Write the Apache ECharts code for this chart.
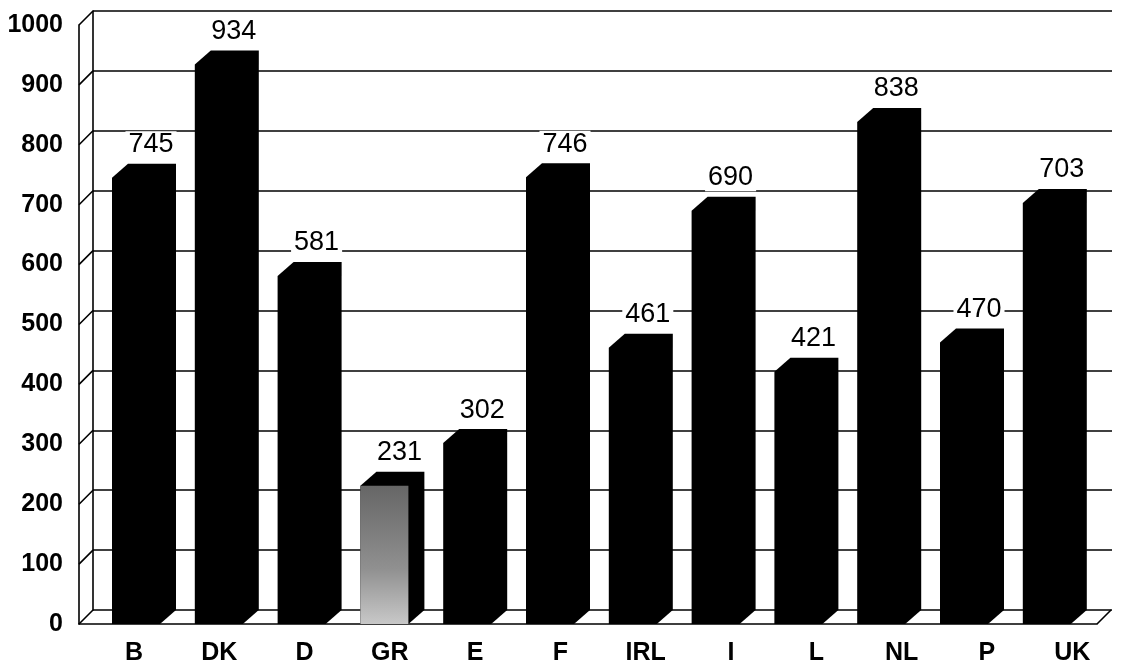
<!DOCTYPE html>
<html>
<head>
<meta charset="utf-8">
<script src="https://cdn.jsdelivr.net/npm/echarts@6/dist/echarts.min.js"></script>
<style>
  html, body { margin: 0; padding: 0; background: #fff; }
  #chart { width: 1126px; height: 669px; }
</style>
</head>
<body>
<div id="chart"></div>
<script>
// data
const categories = ['B', 'DK', 'D', 'GR', 'E', 'F', 'IRL', 'I', 'L', 'NL', 'P', 'UK'];
const values = [745, 934, 581, 231, 302, 746, 461, 690, 421, 838, 470, 703];
const yTicks = [0, 100, 200, 300, 400, 500, 600, 700, 800, 900, 1000];

// pseudo 3d depth
const DX = 16, DY = 14;   // bar depth
const WX = 14, WY = 14;   // wall depth
const HW = 24;            // half width of bar front face
const FONT = '"Liberation Sans", Arial, Helvetica, sans-serif';

const chart = echarts.init(document.getElementById('chart'), null, { renderer: 'canvas' });

function renderBar(params, api) {
    const i = api.value(0);
    const v = api.value(1);
    const base = api.coord([i, 0]);
    const top = api.coord([i, v]);
    const x0 = base[0] - HW, x1 = base[0] + HW;
    const yb = base[1], yt = top[1];
    const children = [{
        type: 'polygon',
        shape: { points: [[x0, yb], [x0, yt], [x0 + DX, yt - DY], [x1 + DX, yt - DY], [x1 + DX, yb - DY], [x1, yb]] },
        style: { fill: '#000' }
    }];
    if (categories[i] === 'GR') {
        // speckled grey front face in the original
        children.push({
            type: 'rect',
            shape: { x: x0, y: yt, width: 2 * HW, height: yb - yt },
            style: {
                fill: new echarts.graphic.LinearGradient(0, 0, 0, 1, [
                    { offset: 0, color: '#666' },
                    { offset: 0.6, color: '#909090' },
                    { offset: 1, color: '#c8c8c8' }
                ])
            }
        });
    }
    children.push({
        type: 'text',
        style: {
            text: String(v),
            x: base[0] + DX - 1,
            y: yt - DY - 19,
            align: 'center',
            verticalAlign: 'middle',
            font: '27px ' + FONT,
            fill: '#000',
            backgroundColor: '#fff',
            padding: [0, 3]
        }
    });
    return { type: 'group', children: children };
}

function renderWall(params, api) {
    const p = api.coord([api.value(0), api.value(1)]);
    return {
        type: 'line',
        shape: { x1: p[0], y1: p[1], x2: p[0] + WX, y2: p[1] - WY },
        style: { stroke: '#000', lineWidth: 1.6 }
    };
}

const wallData = yTicks.map(t => [0, t]).concat([[1, 0]]);

const option = {
    animation: false,
    backgroundColor: '#fff',
    grid: [
        // back wall
        { left: 93, right: 14, top: 11, bottom: 59 },
        // front plane
        { left: 79, right: 29, top: 25, bottom: 45 },
        // bars
        { left: 94.6, right: 37.8, top: 25, bottom: 45 },
        // category labels
        { left: 91.3, right: 11.1, top: 25, bottom: 45 }
    ],
    xAxis: [
        { gridIndex: 0, type: 'value', min: 0, max: 1, show: false },
        {
            gridIndex: 1, type: 'value', min: 0, max: 1,
            axisLine: { show: true, lineStyle: { color: '#000', width: 1.6 } },
            axisTick: { show: false }, axisLabel: { show: false }, splitLine: { show: false }
        },
        { gridIndex: 2, type: 'category', data: categories, show: false },
        {
            gridIndex: 3, type: 'category', data: categories,
            axisLine: { show: false }, axisTick: { show: false },
            axisLabel: { color: '#000', fontSize: 25, fontWeight: 'bold', fontFamily: FONT, margin: 17 }
        }
    ],
    yAxis: [
        {
            gridIndex: 0, type: 'value', min: 0, max: 1000, interval: 100,
            axisLine: { show: true, lineStyle: { color: '#000', width: 1.6 } },
            axisTick: { show: false }, axisLabel: { show: false },
            splitLine: { show: true, lineStyle: { color: '#000', width: 1.6 } }
        },
        {
            gridIndex: 1, type: 'value', min: 0, max: 1000, interval: 100,
            axisLine: { show: true, lineStyle: { color: '#000', width: 1.6 } },
            axisTick: { show: false }, splitLine: { show: false },
            axisLabel: {
                color: '#000', fontSize: 25, fontWeight: 'bold', fontFamily: FONT,
                margin: 16, padding: [0, 0, 8, 0],
                formatter: v => String(v)
            }
        },
        { gridIndex: 2, type: 'value', min: 0, max: 1000, show: false },
        { gridIndex: 3, type: 'value', min: 0, max: 1000, show: false }
    ],
    series: [
        {
            type: 'custom',
            xAxisIndex: 1, yAxisIndex: 1,
            renderItem: renderWall,
            data: wallData,
            silent: true
        },
        {
            type: 'custom',
            xAxisIndex: 2, yAxisIndex: 2,
            renderItem: renderBar,
            data: values.map((v, i) => [i, v]),
            z: 5
        }
    ]
};

chart.setOption(option);
</script>
</body>
</html>
